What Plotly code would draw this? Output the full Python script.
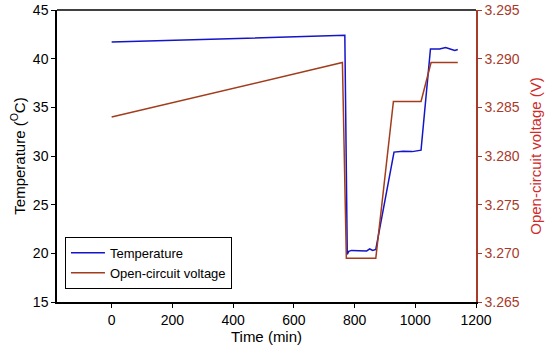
import plotly.graph_objects as go

temp_time = [0, 100, 200, 300, 400, 500, 600, 700, 760, 768, 776, 781, 790, 820, 840, 850, 860, 870, 930, 960, 990, 1019, 1050, 1080, 1100, 1120, 1130, 1140]
temp_vals = [41.7, 41.8, 41.9, 42.0, 42.1, 42.2, 42.3, 42.4, 42.45, 42.4, 19.9, 20.2, 20.3, 20.3, 20.25, 20.45, 20.3, 20.4, 30.4, 30.5, 30.45, 30.6, 41.0, 41.0, 41.15, 40.95, 40.85, 40.95]

volt_time = [0, 760, 773, 780, 870, 928, 1019, 1052, 1140]
volt_vals = [3.2840, 3.2896, 3.2695, 3.2695, 3.2695, 3.2856, 3.2856, 3.2896, 3.2896]

x_ticks = [0, 200, 400, 600, 800, 1000, 1200]
y_ticks = [15, 20, 25, 30, 35, 40, 45]
y2_ticks = [3.265, 3.270, 3.275, 3.280, 3.285, 3.290, 3.295]

blue = "#1414c8"
brown = "#a23c1c"
axis_red = "#a83a2a"
title_red = "#d02a2a"
font = "Liberation Sans, Arial, sans-serif"

fig = go.Figure()
fig.add_trace(go.Scatter(x=temp_time, y=temp_vals, mode="lines", name="Temperature",
                         line=dict(color=blue, width=1.5)))
fig.add_trace(go.Scatter(x=volt_time, y=volt_vals, mode="lines", name="Open-circuit voltage",
                         line=dict(color=brown, width=1.5), yaxis="y2"))

fig.update_layout(
    width=550, height=354,
    margin=dict(l=57, r=74, t=10, b=52, autoexpand=False),
    paper_bgcolor="white", plot_bgcolor="white",
    font=dict(family=font, size=14, color="black"),
    showlegend=True,
    legend=dict(x=0.019, y=0.045, xanchor="left", yanchor="bottom",
                bordercolor="black", borderwidth=1, bgcolor="white",
                font=dict(size=13), tracegroupgap=0, itemwidth=34),
    xaxis=dict(range=[-180, 1200], tickvals=x_ticks, showgrid=False, zeroline=False,
               showline=True, linecolor="black", linewidth=1.5, mirror=False,
               ticks="outside", ticklen=4, tickcolor="black", automargin=False,
               title=dict(text="Time (min)", font=dict(size=15), standoff=2)),
    yaxis=dict(range=[15, 45], tickvals=y_ticks, showgrid=False, zeroline=False,
               showline=True, linecolor="black", linewidth=1.5, automargin=False,
               ticks="outside", ticklen=4, tickcolor="black",
               title=dict(text="Temperature (<sup>O</sup>C)", font=dict(size=15), standoff=4)),
    yaxis2=dict(range=[3.265, 3.295], tickvals=y2_ticks, tickformat=".3f", overlaying="y",
                side="right", showgrid=False, zeroline=False, automargin=False,
                showline=True, linecolor=axis_red, linewidth=1.5,
                ticks="outside", ticklen=4, tickcolor=axis_red,
                tickfont=dict(color=axis_red),
                title=dict(text="Open-circuit voltage (V)", font=dict(size=15, color=title_red), standoff=12)),
)
fig.add_shape(type="line", xref="paper", yref="paper", x0=0, x1=1, y0=1, y1=1,
              line=dict(color="black", width=1.5))

fig.write_html("out.html", config={"displayModeBar": False},
               post_script="document.body.style.margin='0';document.body.style.overflow='hidden';")
